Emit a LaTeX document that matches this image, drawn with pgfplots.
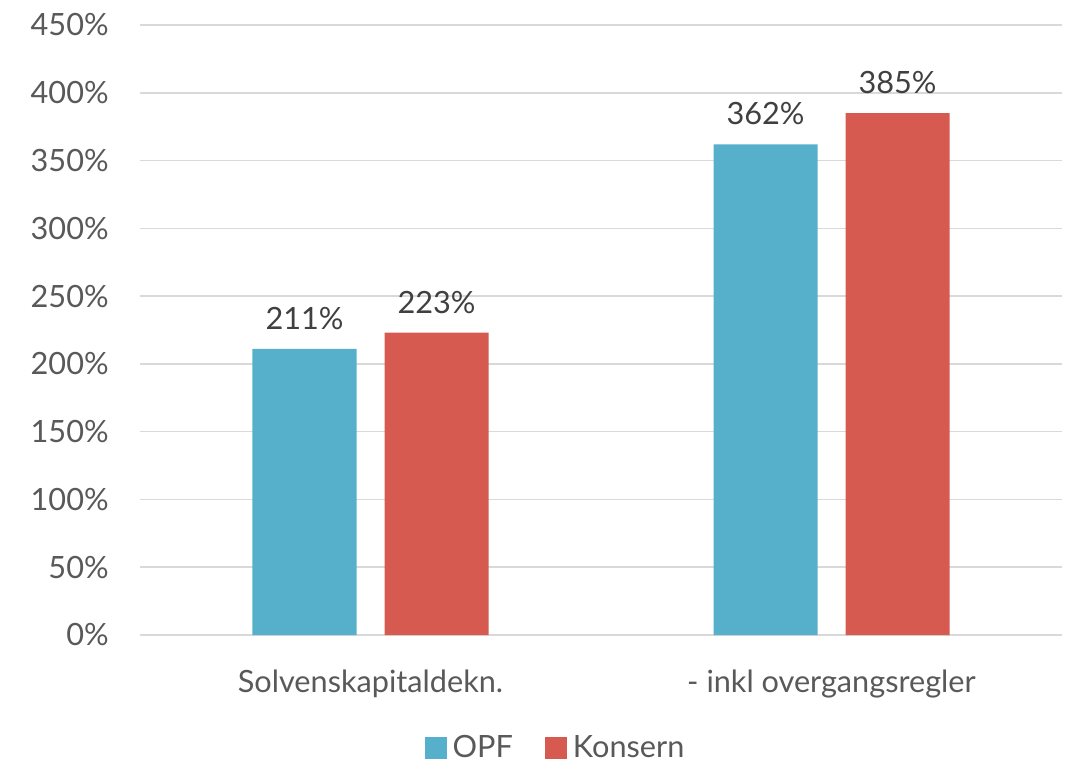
\documentclass[border=0pt]{standalone}
\usepackage{fontspec}
\setmainfont{Lato}
\usepackage{pgfplots}
\pgfplotsset{compat=1.18}
\definecolor{opf}{HTML}{56B0CB}
\definecolor{konsern}{HTML}{D65A50}
\definecolor{gridgray}{HTML}{D9D9D9}
\definecolor{txtgray}{HTML}{595959}
\definecolor{lblgray}{HTML}{404040}
\begin{document}
\begin{tikzpicture}
  % fixed canvas: 1066x764 px at 0.75pt/px
  \useasboundingbox (-105pt,-96.75pt) rectangle (694.5pt,476.25pt);
  \begin{axis}[
      scale only axis,
      width=691.5pt,
      height=457.5pt,
      ybar=21pt,
      bar width=78pt,
      xmin=-0.5, xmax=1.5,
      ymin=0, ymax=450,
      xtick={0,1},
      xticklabels={Solvenskapitaldekn., - inkl overgangsregler},
      ytick={0,50,...,450},
      yticklabel={\pgfmathprintnumber{\tick}\%},
      /pgf/number format/assume math mode=true,
      axis x line*=bottom,
      axis y line*=left,
      y axis line style={draw=none},
      x axis line style={draw=gridgray, line width=1.2pt},
      ymajorgrids,
      grid style={draw=gridgray, line width=1.2pt},
      major tick length=0pt,
      tick label style={font=\fontsize{23}{27}\selectfont, text=txtgray},
      yticklabel style={xshift=-20pt},
      xticklabel style={yshift=-23pt},
      nodes near coords={\pgfmathprintnumber{\pgfplotspointmeta}\%},
      nodes near coords style={font=\fontsize{23}{27}\selectfont, text=lblgray, yshift=11pt},
      legend style={
        at={(0.451,-0.185)}, anchor=center,
        draw=none, font=\fontsize{23}{27}\selectfont,
        text=txtgray, legend columns=-1,
        /tikz/every even column/.append style={column sep=22pt},
      },
      legend image code/.code={\fill[#1] (0pt,-8pt) rectangle (16.5pt,8.5pt); \path (19pt,0pt);},
      clip=false,
    ]
    \addplot[fill=opf, draw=none] coordinates {(0,211) (1,362)};
    \addlegendentry{OPF}
    \addplot[fill=konsern, draw=none] coordinates {(0,223) (1,385)};
    \addlegendentry{Konsern}
  \end{axis}
\end{tikzpicture}
\end{document}
